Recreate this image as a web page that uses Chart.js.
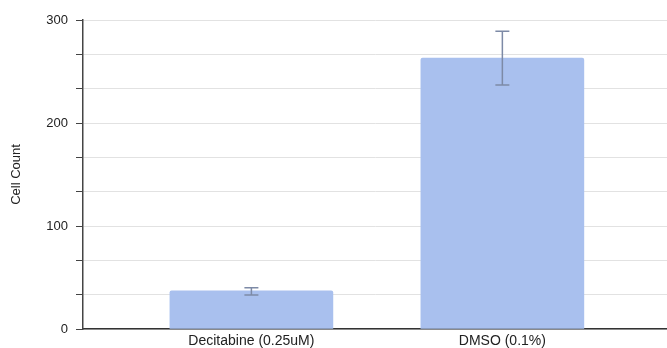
<!DOCTYPE html>
<html>
<head>
<meta charset="utf-8">
<script src="https://cdn.jsdelivr.net/npm/chart.js@4"></script>
<style>
  html, body { margin: 0; padding: 0; background: #fff; }
  #wrap { width: 667px; height: 348px; }
</style>
</head>
<body>
<div id="wrap"><canvas id="c"></canvas></div>
<script>
const categories = ["Decitabine (0.25uM)", "DMSO (0.1%)"];
const counts = [37, 263];
const errLow = [33, 237];
const errHigh = [40, 289];
const yTickLabels = ["0", "100", "200", "300"];

Chart.defaults.font.family = "'Liberation Sans', Arial, sans-serif";
Chart.defaults.font.size = 13;
Chart.defaults.color = "#222";

// error bars drawn on top of the bars
const errorBars = {
    id: "errorBars",
    afterDatasetsDraw(chart) {
        const meta = chart.getDatasetMeta(0);
        const y = chart.scales.y;
        const ctx = chart.ctx;
        ctx.save();
        ctx.strokeStyle = "#7d8aa6";
        ctx.lineWidth = 1.5;
        meta.data.forEach((bar, i) => {
            const x = bar.x;
            const top = y.getPixelForValue(errHigh[i]);
            const bot = y.getPixelForValue(errLow[i]);
            ctx.beginPath();
            ctx.moveTo(x, top); ctx.lineTo(x, bot);
            ctx.moveTo(x - 7, top); ctx.lineTo(x + 7, top);
            ctx.moveTo(x - 7, bot); ctx.lineTo(x + 7, bot);
            ctx.stroke();
        });
        ctx.restore();
    }
};

new Chart(document.getElementById("c"), {
    type: "bar",
    data: {
        datasets: [{
            data: counts.map((v, i) => ({ x: i, y: v })),
            backgroundColor: "#a9c0ee",
            borderRadius: 2,
            borderSkipped: "bottom",
            barThickness: 163
        }]
    },
    options: {
        responsive: true,
        maintainAspectRatio: false,
        animation: false,
        layout: { padding: { top: 20, right: 0, left: 0, bottom: 0 } },
        plugins: { legend: { display: false }, tooltip: { enabled: false } },
        scales: {
            x: {
                type: "linear",
                offset: false,
                min: -0.671,
                max: 1.656,
                afterBuildTicks(scale) { scale.ticks = [{ value: 0 }, { value: 1 }]; },
                afterFit(scale) { scale.height = 19; },
                ticks: {
                    padding: 4,
                    color: "#222",
                    font: { size: 14 },
                    callback: (v) => categories[v]
                },
                grid: { display: false, drawTicks: false, offset: false },
                border: { color: "#333", width: 1.5 }
            },
            y: {
                min: 0,
                max: 300,
                afterBuildTicks(scale) {
                    const t = [];
                    for (let i = 0; i <= 9; i++) t.push({ value: i * 100 / 3 });
                    scale.ticks = t;
                },
                afterFit(scale) { scale.width = 83; },
                ticks: {
                    padding: 8,
                    color: "#222",
                    font: { size: 13 },
                    callback: (v) => {
                        const k = Math.round(v);
                        return k % 100 === 0 ? yTickLabels[k / 100] : "";
                    }
                },
                grid: { color: "#e2e2e2", tickColor: "#444", tickLength: 7 },
                border: { color: "#444", width: 1.5 },
                title: {
                    display: true,
                    text: "Cell Count",
                    color: "#222",
                    font: { size: 13 },
                    padding: { top: 9, bottom: 4 }
                }
            }
        }
    },
    plugins: [errorBars]
});
</script>
</body>
</html>
